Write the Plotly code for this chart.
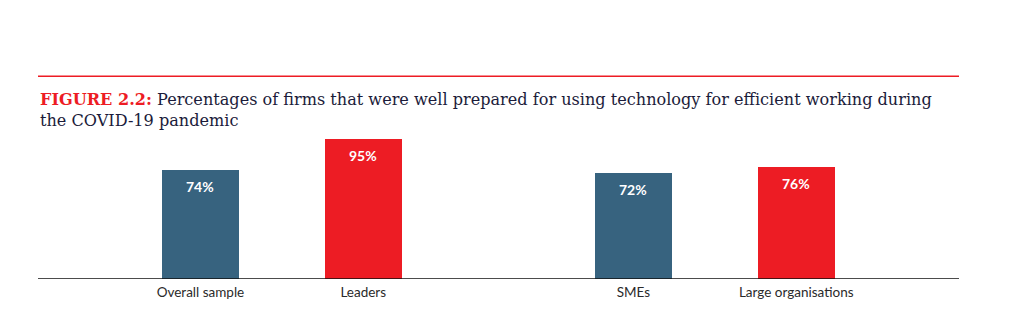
import plotly.graph_objects as go

categories = ["Overall sample", "Leaders", "SMEs", "Large organisations"]
values = [74, 95, 72, 76]
groups = [0, 0, 1, 1]
label_texts = ["74%", "95%", "72%", "76%"]
colors = ["#37637F", "#ED1C24", "#37637F", "#ED1C24"]

group_gap = 1.66
xpos = [i + g * (group_gap - 1) for i, g in enumerate(groups)]

fig = go.Figure(go.Bar(
    x=xpos, y=values, width=0.473,
    marker=dict(color=colors, line=dict(width=0)),
    hoverinfo="skip",
))

annotations = [
    dict(x=x, y=v, xref="x", yref="y", text=t, showarrow=False,
         yanchor="middle", yshift=-16,
         font=dict(family="Lato", size=14, color="white", weight="bold"))
    for x, v, t in zip(xpos, values, label_texts)
]
annotations.append(dict(
    xref="paper", yref="paper", x=0, y=1.30, xanchor="left", yanchor="top",
    align="left", showarrow=False,
    text="<span style='color:#ED1C24'><b>FIGURE 2.2:</b></span> Percentages of firms that were well prepared for using technology for efficient working during<br>the COVID-19 pandemic",
    font=dict(family="DejaVu Serif", size=16.1, color="#1B1B3A"),
))

fig.update_layout(
    width=1017, height=324,
    margin=dict(l=38, r=58, t=132, b=45),
    paper_bgcolor="white", plot_bgcolor="white",
    showlegend=False,
    xaxis=dict(range=[-0.998, xpos[-1] + 1.0], tickvals=xpos, ticktext=categories,
               showgrid=False, zeroline=False, showline=False, ticks="",
               ticklabelstandoff=3,
               tickfont=dict(family="Lato", size=13.5, color="#2A2A2A")),
    yaxis=dict(range=[0, 100], visible=False),
    shapes=[
        dict(type="line", xref="paper", yref="y", x0=0, x1=1, y0=0, y1=0,
             line=dict(color="#111111", width=1.3)),
        dict(type="line", xref="paper", yref="paper", x0=0, x1=1, y0=1.38, y1=1.38,
             line=dict(color="#ED1C24", width=1.5)),
    ],
    annotations=annotations,
    bargap=0,
)

fig.write_html("out.html")
